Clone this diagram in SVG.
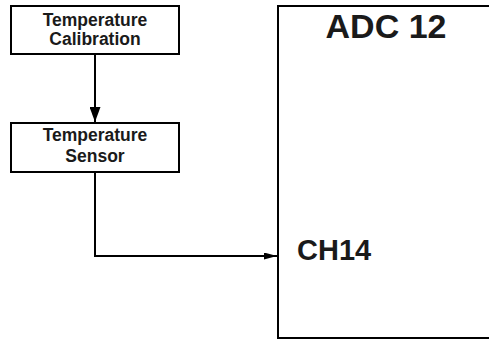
<svg xmlns="http://www.w3.org/2000/svg" width="489" height="339" viewBox="0 0 489 339">
<defs>
<style>
.box{fill:#fff;stroke:#000;stroke-width:2}
.lbl{font-family:"Liberation Sans",Arial,sans-serif;font-weight:bold;fill:#1a1a1a}
.small{font-size:17.5px;text-anchor:middle}
.wire{fill:none;stroke:#000;stroke-width:2}
</style>
<marker id="ah1" viewBox="0 0 10 10" refX="10" refY="5" markerWidth="15" markerHeight="11" markerUnits="userSpaceOnUse" orient="auto" preserveAspectRatio="none">
<path d="M0,0 L10,5 L0,10 z" fill="#000"/>
</marker>
<marker id="ah2" viewBox="0 0 10 10" refX="10" refY="5" markerWidth="13" markerHeight="7" markerUnits="userSpaceOnUse" orient="auto" preserveAspectRatio="none">
<path d="M0,0 L10,5 L0,10 z" fill="#000"/>
</marker>
</defs>
<g id="connectors">
<line class="wire" x1="95" y1="55" x2="95" y2="122" marker-end="url(#ah1)"/>
<polyline class="wire" points="95,172 95,256 277,256" marker-end="url(#ah2)"/>
</g>
<g id="temp-calibration">
<rect class="box" x="11" y="6" width="168" height="48"/>
<text class="lbl small" x="95" y="26">Temperature</text>
<text class="lbl small" x="95" y="45">Calibration</text>
</g>
<g id="temp-sensor">
<rect class="box" x="11" y="123" width="168" height="49"/>
<text class="lbl small" x="95" y="141">Temperature</text>
<text class="lbl small" x="95" y="162">Sensor</text>
</g>
<g id="adc12">
<rect class="box" x="278" y="6" width="230" height="332"/>
<text class="lbl" x="386" y="38" font-size="34" text-anchor="middle">ADC 12</text>
<text class="lbl" x="297" y="260" font-size="29">CH14</text>
</g>
</svg>
